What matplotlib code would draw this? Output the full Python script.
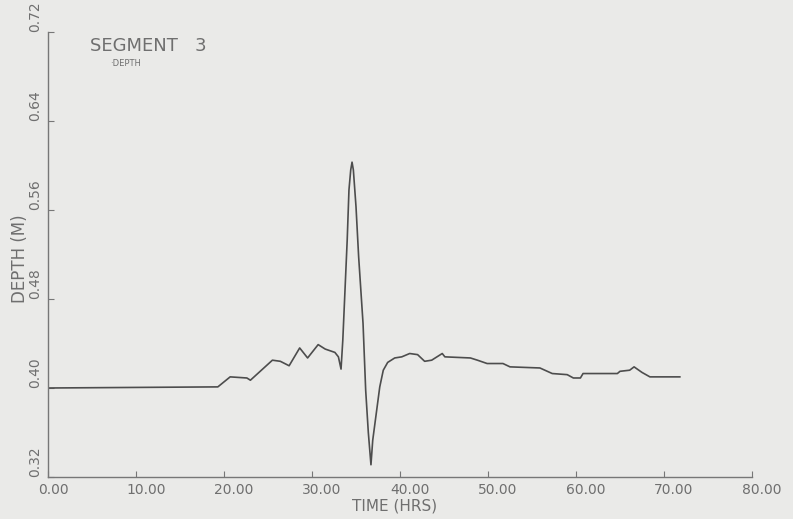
import matplotlib
matplotlib.use("Agg")
import matplotlib.pyplot as plt
from matplotlib.transforms import ScaledTranslation

# Data (time in hours, depth in metres)
time_hrs = [0.0, 19.3, 20.7, 22.6, 23.0, 25.5, 26.4, 27.4, 28.6, 29.5, 30.7,
            31.5, 32.6, 33.0, 33.3, 33.5, 33.75, 34.0, 34.2, 34.4, 34.55,
            34.7, 35.0, 35.3, 35.8, 36.1, 36.4, 36.7, 36.9, 37.4, 37.7,
            38.1, 38.6, 39.4, 40.2, 41.1, 42.0, 42.8, 43.6, 44.8, 45.1,
            48.0, 48.8, 49.9, 51.7, 52.5, 55.9, 57.3, 59.0, 59.7, 60.5,
            60.8, 64.7, 65.0, 66.1, 66.6, 67.5, 68.4, 71.8]
depth_m = [0.400, 0.401, 0.410, 0.409, 0.407, 0.425, 0.424, 0.420, 0.436,
           0.427, 0.439, 0.435, 0.432, 0.428, 0.417, 0.443, 0.488, 0.533,
           0.578, 0.596, 0.603, 0.596, 0.563, 0.518, 0.458, 0.398, 0.360,
           0.331, 0.353, 0.383, 0.401, 0.416, 0.423, 0.427, 0.428, 0.431,
           0.430, 0.424, 0.425, 0.431, 0.428, 0.427, 0.425, 0.422, 0.422,
           0.419, 0.418, 0.413, 0.412, 0.409, 0.409, 0.413, 0.413, 0.415,
           0.416, 0.419, 0.414, 0.410, 0.410]

x_ticks = [0, 10, 20, 30, 40, 50, 60, 70, 80]
x_tick_labels = ["0.00", "10.00", "20.00", "30.00", "40.00", "50.00",
                 "60.00", "70.00", "80.00"]
y_ticks = [0.32, 0.40, 0.48, 0.56, 0.64, 0.72]
y_tick_labels = ["0.32", "0.40", "0.48", "0.56", "0.64", "0.72"]

bg = "#eaeae8"
ink = "#6f6f6f"
line_col = "#4d4d4d"

fig = plt.figure(figsize=(7.93, 5.19), dpi=100, facecolor=bg)
ax = fig.add_axes([48 / 793, 42 / 519, 704 / 793, 445 / 519])
ax.set_facecolor(bg)

ax.plot(time_hrs, depth_m, color=line_col, lw=1.2)

ax.set_xlim(0, 80)
ax.set_ylim(0.32, 0.72)

for s in ["top", "right"]:
    ax.spines[s].set_visible(False)
for s in ["left", "bottom"]:
    ax.spines[s].set_color("#777777")
    ax.spines[s].set_linewidth(1.0)

ax.set_xticks(x_ticks)
ax.set_xticklabels(x_tick_labels, fontsize=10, color=ink, ha="left")
ax.set_yticks(y_ticks)
ax.set_yticklabels(y_tick_labels, fontsize=10, color=ink, rotation=90,
                   va="bottom")
ax.tick_params(axis="both", direction="in", length=4, color="#777777",
               pad=4)
off = ScaledTranslation(-10 / 100, 0, fig.dpi_scale_trans)
for lab in ax.get_xticklabels():
    lab.set_transform(lab.get_transform() + off)

fig.text(395 / 793, 1 - 506 / 519, "TIME (HRS)", fontsize=11, color=ink,
         ha="center", va="center")
fig.text(20 / 793, 1 - 259 / 519, "DEPTH (M)", fontsize=12, color=ink,
         ha="center", va="center", rotation=90)
fig.text(90 / 793, 1 - 46 / 519, "SEGMENT   3", fontsize=13, color=ink,
         ha="left", va="center")
fig.text(110 / 793, 1 - 63 / 519, "\u00b7DEPTH", fontsize=6, color=ink,
         ha="left", va="center")

fig.savefig("out.png", dpi=100, facecolor=bg)
